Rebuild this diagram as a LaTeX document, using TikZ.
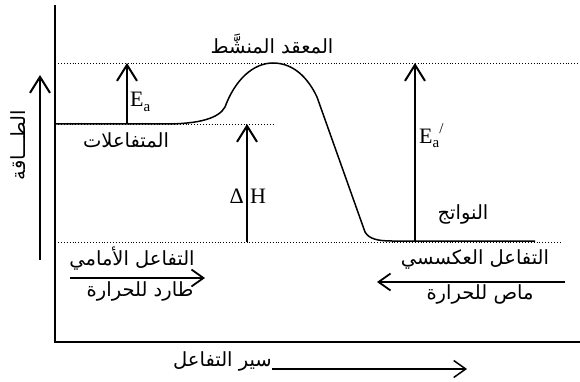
\documentclass[tikz,border=0pt]{standalone}
\usepackage{fontspec}
\setmainfont{Liberation Serif}
\newfontfamily\arabicfont[Script=Arabic]{DejaVu Sans}
\TeXXeTstate=1
\usetikzlibrary{arrows.meta}
\newcommand{\artxt}[1]{{\arabicfont\beginR #1\endR}}
\begin{document}
\begin{tikzpicture}[x=1pt,y=-1pt,
  axis/.style={line width=2pt},
  curve/.style={line width=1.5pt, line join=round},
  guide/.style={line width=0.9pt, dotted},
  vec/.style={line width=2pt, -{Straight Barb[length=16pt,width=20pt]}},
  hvec/.style={line width=1.8pt, -{Straight Barb[length=12pt,width=17pt]}},
  ar/.style={font=\fontsize{19.5}{22}\selectfont, inner sep=0pt},
  lat/.style={font=\fontsize{22}{24}\selectfont, inner sep=0pt}]
\useasboundingbox (0,0) rectangle (580,382);
\fill[white] (0,0) rectangle (580,382);
% axes
\coordinate (O) at (55,342);
\coordinate (Ytop) at (55,5);
\coordinate (Xend) at (580,342);
\draw[axis] (Ytop) -- (O) -- (Xend);
% energy arrow
\coordinate (e0) at (40,260);
\coordinate (e1) at (40,75);
\draw[vec] (e0) -- (e1);
\node[ar, rotate=90] (energy) at (18,145) {\artxt{الطـــاقة}};
% guide lines
\coordinate (t0) at (58,63); \coordinate (t1) at (580,63);
\coordinate (m0) at (55,124); \coordinate (m1) at (273,124);
\coordinate (b0) at (58,242); \coordinate (b1) at (560,242);
\draw[guide] (t0) -- (t1);
\draw[guide] (m0) -- (m1);
\draw[guide] (b0) -- (b1);
% energy curve
\draw[curve] (55,124) -- (165,124) .. controls (200,124) and (219,118) .. (225,107)
  .. controls (235,80) and (253,63) .. (273,63)
  .. controls (295,63) and (309,80) .. (317,97)
  -- (365,232) .. controls (369,239) and (378,241) .. (392,241) -- (535,241);
% Ea
\coordinate (ea0) at (127,124); \coordinate (ea1) at (127,63);
\draw[vec] (ea0) -- (ea1);
\node[lat, anchor=base west] (ea) at (130,107) {E\raisebox{-0.22em}{\fontsize{15}{15}\selectfont a}};
% Delta H
\coordinate (dh0) at (247,242); \coordinate (dh1) at (247,124);
\draw[vec] (dh0) -- (dh1);
\node[lat, anchor=base east] (dlt) at (244,203) {Δ};
\node[lat, anchor=base west] (hh) at (250,203) {H};
% Ea'
\coordinate (er0) at (415,242); \coordinate (er1) at (415,63);
\draw[vec] (er0) -- (er1);
\node[lat, anchor=base west] (ear) at (419,143) {E\raisebox{-0.22em}{\fontsize{15}{15}\selectfont a}\raisebox{0.45em}{\fontsize{15}{15}\selectfont /}};
% Arabic labels
\node[ar] (complex) at (272,44) {\artxt{المعقد المنشَّط}};
\node[ar] (react) at (126,140) {\artxt{المتفاعلات}};
\node[ar] (prod) at (463,214) {\artxt{النواتج}};
\node[ar] (fwd1) at (132,259) {\artxt{التفاعل الأمامي}};
\node[ar] (fwd2) at (140,291) {\artxt{طارد للحرارة}};
\node[ar] (rev1) at (475,259) {\artxt{التفاعل العكسسي}};
\node[ar] (rev2) at (480,294) {\artxt{ماص للحرارة}};
\node[ar, anchor=east] (xlab) at (272,361) {\artxt{سير التفاعل}};
% direction arrows
\coordinate (f0) at (70,278); \coordinate (f1) at (205,278);
\draw[hvec] (f0) -- (f1);
\coordinate (r0) at (565,282); \coordinate (r1) at (377,282);
\draw[hvec] (r0) -- (r1);
\coordinate (x1) at (467,369);
\draw[hvec, line width=1.5pt] (xlab.east |- x1) -- (x1);
\end{tikzpicture}
\end{document}
